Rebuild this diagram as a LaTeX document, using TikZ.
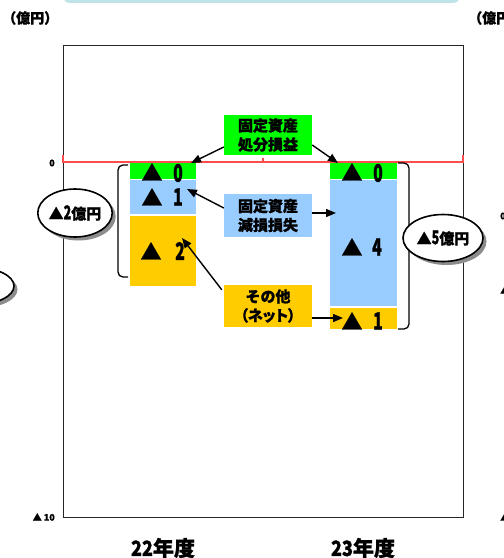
\documentclass[tikz,border=0pt]{standalone}
\usepackage{fontspec}
\setmainfont{Noto Sans CJK JP}[BoldFeatures={FakeBold=1.2}]
\usetikzlibrary{arrows.meta,shapes.geometric,shadows}
\definecolor{bargreen}{HTML}{00FF00}
\definecolor{barblue}{HTML}{99CCFF}
\definecolor{barorange}{HTML}{FFCC00}
\definecolor{zeroline}{HTML}{FF4D4D}
\definecolor{tealbg}{HTML}{BFE3E6}
\newcommand{\cnd}[1]{\scalebox{0.66}[1]{#1}}
\tikzset{
  barbox/.style={inner sep=0, outer sep=0},
  tri/.style={font=\bfseries\fontsize{21}{21}\selectfont, inner sep=0},
  num/.style={font=\bfseries\fontsize{24}{24}\selectfont, inner sep=0},
  lblbox/.style={inner sep=0, minimum width=88, align=center, font=\bfseries\fontsize{15}{19}\selectfont},
  arr/.style={line width=1.4, -{Triangle[length=10pt,width=8pt]}},
  bubble/.style={ellipse, draw, line width=1.6, fill=white, inner sep=0,
     font=\bfseries\fontsize{15}{15}\selectfont,
     drop shadow={shadow xshift=3.5pt, shadow yshift=-3.5pt, fill=black!45, opacity=1}},
  brace/.style={line width=1.3, rounded corners=5},
  axislbl/.style={font=\bfseries\fontsize{9}{9}\selectfont, inner sep=0},
  unitlbl/.style={font=\bfseries\fontsize{14}{14}\selectfont, inner sep=0, anchor=west},
  yearlbl/.style={font=\bfseries\fontsize{21}{21}\selectfont, inner sep=0},
}
\begin{document}
\begin{tikzpicture}[x=1pt,y=-1pt]
\clip (0,0) rectangle (504,558);
\fill[white] (0,0) rectangle (504,558);
% top banner of the page
\fill[tealbg, rounded corners=7] (63,-20) rectangle (460,3);
% unit labels
\node[unitlbl] (unitL) at (2,18) {（億円）};
\node[unitlbl] (unitR) at (468,18) {（億円）};
% plot frame
\draw[line width=1, black!85] (63,45) rectangle (463,517);
% zero line
\draw[zeroline, line width=1.8] (63,155) -- (63,162) -- (463,162) -- (463,155);
\draw[zeroline, line width=1.8] (263,158) -- (263,162);
% axis labels
\node[axislbl] (ax0) at (52,163) {0};
\node[axislbl, anchor=east] (ax10) at (55,517) {▲ 10};
% next-panel fragments at the right edge
\node[axislbl, anchor=west] (fr0) at (500,216) {0};
\node[axislbl, anchor=west] (fr5) at (500,290) {▲};
\node[axislbl, anchor=west] (fr10) at (500,517) {▲};
% bars FY22
\node[barbox, fill=bargreen, minimum width=66, minimum height=16] (lg) at (163,171) {};
\node[barbox, fill=barblue, minimum width=66, minimum height=34] (lb) at (163,197) {};
\node[barbox, fill=barorange, minimum width=66, minimum height=70] (lo) at (163,251) {};
% bars FY23
\node[barbox, fill=bargreen, minimum width=67, minimum height=16] (rg) at (363.5,171) {};
\node[barbox, fill=barblue, minimum width=67, minimum height=126] (rb) at (363.5,243) {};
\node[barbox, fill=barorange, minimum width=67, minimum height=21] (ro) at (363.5,318.5) {};
% bar values
\node[tri] (lgt) at (152,172) {▲};
\node[num] (lgn) at (178,173) {\cnd{0}};
\node[tri] (lbt) at (152,197) {▲};
\node[num] (lbn) at (178,197) {\cnd{1}};
\node[tri] (lot) at (151,251) {▲};
\node[num] (lon) at (180,251) {\cnd{2}};
\node[tri] (rgt) at (352,172) {▲};
\node[num] (rgn) at (378,173) {\cnd{0}};
\node[tri] (rbt) at (352,247) {▲};
\node[num] (rbn) at (377,247) {\cnd{4}};
\node[tri] (rot) at (352,321) {▲};
\node[num] (ron) at (378,321) {\cnd{1}};
% braces
\draw[brace] (128,165) -- (118,165) -- (118,277) -- (128,277);
\draw[brace] (398,163) -- (409,163) -- (409,329) -- (398,329);
% totals
\node[bubble, minimum width=71, minimum height=48] (totL) at (75,213) {▲\cnd{\fontsize{19}{19}\selectfont 2}億円};
\node[bubble, minimum width=80, minimum height=47] (totR) at (443,238) {▲\cnd{\fontsize{19}{19}\selectfont 5}億円};
\node[bubble, minimum width=76, minimum height=37] (totP) at (-24,286) {};
% category labels
\node[lblbox, fill=bargreen, minimum height=40] (cg) at (268,135) {固定資産\\処分損益};
\node[lblbox, fill=barblue, minimum height=43] (cb) at (268,215.5) {固定資産\\減損損失};
\node[lblbox, fill=barorange, minimum height=42] (co) at (268,306) {その他\\{\addfontfeatures{RawFeature=+palt}（ネット）}};
% arrow targets
\coordinate (tLG) at (191,163);
\coordinate (tRG) at (338,163);
\coordinate (tLB) at (187,189);
\coordinate (tRB) at (336,213);
\coordinate (tLO) at (182,238);
\coordinate (tRO) at (343,318);
% arrows
\draw[arr] (cg.west |- 0,147) -- (tLG);
\draw[arr] (cg.east |- 0,145) -- (tRG);
\draw[arr] (cb.west |- 0,208) -- (tLB);
\draw[arr] (cb.east |- 0,213) -- (tRB);
\draw[arr] (co.north west) ++(-2,5) -- (tLO);
\draw[arr] (co.east |- 0,318) -- (tRO);
% years
\node[yearlbl] (y22) at (163,548) {\cnd{\scalebox{1.3}[1]{22}}年度};
\node[yearlbl] (y23) at (363,548) {\cnd{\scalebox{1.3}[1]{23}}年度};
\end{tikzpicture}
\end{document}
